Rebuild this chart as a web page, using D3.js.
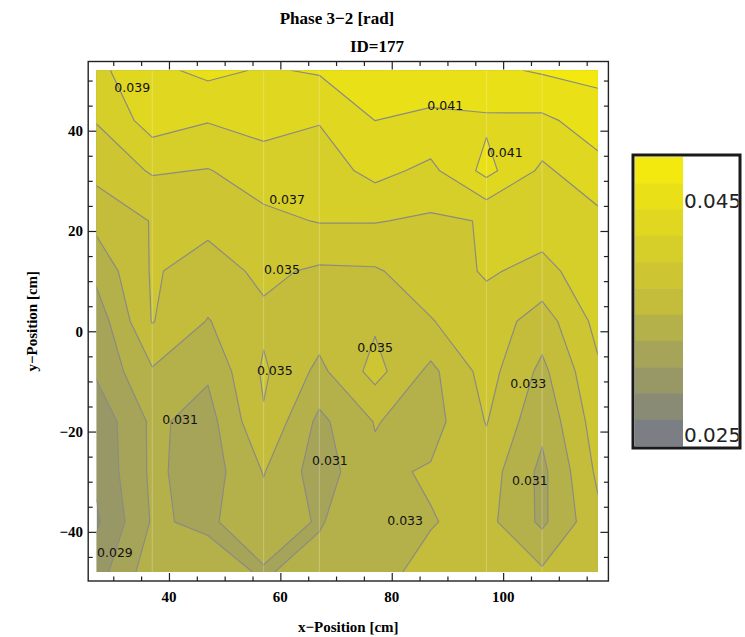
<!DOCTYPE html>
<html>
<head>
<meta charset="utf-8">
<script src="https://cdn.jsdelivr.net/npm/d3@7"></script>
<style>
body { margin: 0; background: #fff; }
svg { display: block; }
</style>
</head>
<body>
<svg width="745" height="637"></svg>
<script>
// measuring grid (cm)
var xPos = [27, 37, 47, 57, 67, 77, 87, 97, 107, 117];
var yPos = [52, 42, 32, 22, 12, 2, -8, -18, -28, -38, -48];

// phase 3-2 [rad], one row per y position, top row first
var phase = [
  [0.0385, 0.0405, 0.0415, 0.0408, 0.0412, 0.0418, 0.0421, 0.0426, 0.0432, 0.0436],
  [0.0371, 0.0399, 0.0391, 0.0397, 0.0391, 0.0410, 0.0406, 0.0407, 0.0406, 0.0419],
  [0.0356, 0.0372, 0.0369, 0.0380, 0.0380, 0.0396, 0.0385, 0.0416, 0.0386, 0.0404],
  [0.0336, 0.0351, 0.0355, 0.0365, 0.0371, 0.0371, 0.0367, 0.0371, 0.0378, 0.0384],
  [0.0316, 0.0352, 0.0342, 0.0354, 0.0347, 0.0348, 0.0360, 0.0372, 0.0365, 0.0380],
  [0.0298, 0.0351, 0.0329, 0.0346, 0.0340, 0.0347, 0.0349, 0.0362, 0.0340, 0.0376],
  [0.0293, 0.0328, 0.0313, 0.0353, 0.0325, 0.0357, 0.0325, 0.0358, 0.0325, 0.0367],
  [0.0276, 0.0314, 0.0302, 0.0348, 0.0305, 0.0331, 0.0322, 0.0351, 0.0315, 0.0360],
  [0.0274, 0.0314, 0.0300, 0.0331, 0.0300, 0.0326, 0.0332, 0.0340, 0.0305, 0.0354],
  [0.0267, 0.0312, 0.0307, 0.0322, 0.0308, 0.0328, 0.0329, 0.0336, 0.0306, 0.0345],
  [0.0281, 0.0322, 0.0318, 0.0308, 0.0318, 0.0325, 0.0335, 0.0331, 0.0333, 0.0340]
];

var levels = [0.027, 0.029, 0.031, 0.033, 0.035, 0.037, 0.039, 0.041, 0.043];
var legendLabels = ["0.045", "0.025"];
var xTicks = [40, 60, 80, 100];
var yTicks = [-40, -20, 0, 20, 40];
var seamCols = [37, 57, 67, 97, 107];

// where Mathematica put the contour labels (data coords)
var contourLabels = [
  [33.4, 48.5, "0.039"], [89.6, 45.1, "0.041"], [100.3, 35.6, "0.041"],
  [61.2, 26.2, "0.037"], [60.3, 12.2, "0.035"], [77.0, -3.2, "0.035"],
  [59.0, -7.8, "0.035"], [104.5, -10.4, "0.033"], [42.0, -17.7, "0.031"],
  [68.9, -25.7, "0.031"], [104.8, -29.7, "0.031"], [82.4, -37.7, "0.033"],
  [30.3, -44.2, "0.029"]
];

var svg = d3.select("svg");

var x = d3.scaleLinear().domain([25.5, 118.9]).range([88.2, 608.4]);
var y = d3.scaleLinear().domain([-49.8, 53.8]).range([581, 61.5]);

var nx = xPos.length, ny = yPos.length;
// grid index -> data coords (d3.contours puts sample i at i + 0.5)
var ui = d3.scaleLinear().domain([0.5, nx - 0.5]).range([xPos[0], xPos[nx - 1]]);
var vi = d3.scaleLinear().domain([0.5, ny - 0.5]).range([yPos[0], yPos[ny - 1]]);

// grey -> olive -> yellow, like the Mathematica legend
var band = d3.scaleLinear()
  .domain([0, 0.5, 1])
  .range(["#7b7f84", "#c3bd3b", "#f3e90f"])
  .interpolate(d3.interpolateRgb);

var x0 = x(xPos[0]), x1 = x(xPos[nx - 1]);
var y0 = y(yPos[0]), y1 = y(yPos[ny - 1]);

svg.append("clipPath").attr("id", "plotclip")
  .append("rect")
  .attr("x", x0).attr("y", y0)
  .attr("width", x1 - x0).attr("height", y1 - y0);

var plot = svg.append("g").attr("clip-path", "url(#plotclip)");

plot.append("rect")
  .attr("x", x0).attr("y", y0)
  .attr("width", x1 - x0).attr("height", y1 - y0)
  .attr("fill", band(0.1));

var flat = [].concat.apply([], phase);
var contours = d3.contours().size([nx, ny]).thresholds(levels)(flat);

var path = d3.geoPath(d3.geoTransform({
  point: function(u, v) {
    this.stream.point(x(ui(u)), y(vi(v)));
  }
}));

plot.selectAll("path.band")
  .data(contours)
  .enter().append("path")
  .attr("class", "band")
  .attr("d", path)
  .attr("fill", function(d, i) { return band((i + 2) / 10); });

plot.selectAll("path.iso")
  .data(contours)
  .enter().append("path")
  .attr("class", "iso")
  .attr("d", path)
  .attr("fill", "none")
  .attr("stroke", "#8c8b82")
  .attr("stroke-width", 1.2)
  .attr("stroke-linejoin", "round");

// faint polygon seams left by the original renderer
plot.selectAll("line.seam")
  .data(seamCols)
  .enter().append("line")
  .attr("x1", function(d) { return x(d); })
  .attr("x2", function(d) { return x(d); })
  .attr("y1", y0).attr("y2", y1)
  .attr("stroke", "#fff")
  .attr("stroke-opacity", 0.25)
  .attr("stroke-width", 1);

plot.selectAll("text.clab")
  .data(contourLabels)
  .enter().append("text")
  .attr("x", function(d) { return x(d[0]); })
  .attr("y", function(d) { return y(d[1]); })
  .attr("dy", "0.35em")
  .attr("text-anchor", "middle")
  .attr("font-family", "DejaVu Sans")
  .attr("font-size", 12.5)
  .attr("fill", "#111")
  .text(function(d) { return d[2]; });

var fLeft = x.range()[0], fRight = x.range()[1];
var fTop = y.range()[1], fBottom = y.range()[0];

// frame
svg.append("rect")
  .attr("x", fLeft).attr("y", fTop)
  .attr("width", fRight - fLeft)
  .attr("height", fBottom - fTop)
  .attr("fill", "none")
  .attr("stroke", "#222")
  .attr("stroke-width", 1.4);

var xMinor = d3.range(30, 119, 5).filter(function(d) { return d % 20 !== 0; });
var yMinor = d3.range(-45, 54, 5).filter(function(d) { return d % 20 !== 0; });

function ticks(axisFn, scale, vals, len, tr) {
  var g = svg.append("g").attr("transform", tr)
    .call(axisFn(scale).tickValues(vals).tickSize(-len).tickFormat(""));
  g.select(".domain").remove();
  g.selectAll("text").remove();
  g.selectAll("line").attr("stroke", "#222").attr("stroke-width", 1.2);
}
ticks(d3.axisBottom, x, xTicks, 8, "translate(0," + fBottom + ")");
ticks(d3.axisBottom, x, xMinor, 4.5, "translate(0," + fBottom + ")");
ticks(d3.axisTop, x, xTicks, 8, "translate(0," + fTop + ")");
ticks(d3.axisTop, x, xMinor, 4.5, "translate(0," + fTop + ")");
ticks(d3.axisLeft, y, yTicks, 8, "translate(" + fLeft + ",0)");
ticks(d3.axisLeft, y, yMinor, 4.5, "translate(" + fLeft + ",0)");
ticks(d3.axisRight, y, yTicks, 8, "translate(" + fRight + ",0)");
ticks(d3.axisRight, y, yMinor, 4.5, "translate(" + fRight + ",0)");

var serif = "Liberation Serif";

svg.selectAll("text.xt")
  .data(xTicks)
  .enter().append("text")
  .attr("x", function(d) { return x(d); })
  .attr("y", 602)
  .attr("text-anchor", "middle")
  .attr("font-family", serif).attr("font-weight", "bold").attr("font-size", 15)
  .text(function(d) { return d; });

svg.selectAll("text.yt")
  .data(yTicks)
  .enter().append("text")
  .attr("x", 83)
  .attr("y", function(d) { return y(d); })
  .attr("dy", "0.35em")
  .attr("text-anchor", "end")
  .attr("font-family", serif).attr("font-weight", "bold").attr("font-size", 15)
  .text(function(d) { return d < 0 ? "\u2212" + (-d) : d; });

svg.append("text")
  .attr("x", (fLeft + fRight) / 2).attr("y", 632)
  .attr("text-anchor", "middle")
  .attr("font-family", serif).attr("font-weight", "bold").attr("font-size", 15)
  .text("x\u2212Position [cm]");

svg.append("text")
  .attr("transform", "translate(37," + ((fTop + fBottom) / 2) + ") rotate(-90)")
  .attr("text-anchor", "middle")
  .attr("font-family", serif).attr("font-weight", "bold").attr("font-size", 15)
  .text("y\u2212Position [cm]");

svg.append("text")
  .attr("x", 337).attr("y", 24)
  .attr("text-anchor", "middle")
  .attr("font-family", serif).attr("font-weight", "bold").attr("font-size", 17)
  .text("Phase 3\u22122 [rad]");

svg.append("text")
  .attr("x", 377).attr("y", 52)
  .attr("text-anchor", "middle")
  .attr("font-family", serif).attr("font-weight", "bold").attr("font-size", 17)
  .text("ID=177");

// colour legend
var lx = 633, ly = 155, lw = 107, lh = 293;
var nBands = 11;
var ls = d3.scaleBand().domain(d3.range(nBands)).range([ly + 2, ly + lh - 2]);

svg.append("clipPath").attr("id", "legclip")
  .append("rect").attr("x", lx).attr("y", ly).attr("width", lw - 1.5).attr("height", lh);

var leg = svg.append("g").attr("clip-path", "url(#legclip)");
leg.selectAll("rect")
  .data(d3.range(nBands))
  .enter().append("rect")
  .attr("x", lx + 2).attr("width", 48)
  .attr("y", function(d) { return ls(d); })
  .attr("height", ls.bandwidth() + 0.5)
  .attr("fill", function(d) { return band(1 - d / (nBands - 1)); });

leg.selectAll("text")
  .data(legendLabels)
  .enter().append("text")
  .attr("x", lx + 51)
  .attr("y", function(d, i) { return i === 0 ? 208 : 442; })
  .attr("font-family", "DejaVu Sans").attr("font-size", 20)
  .attr("fill", "#222")
  .text(function(d) { return d; });

svg.append("rect")
  .attr("x", lx).attr("y", ly).attr("width", lw).attr("height", lh)
  .attr("fill", "none").attr("stroke", "#1a1a1a").attr("stroke-width", 3);
</script>
</body>
</html>
